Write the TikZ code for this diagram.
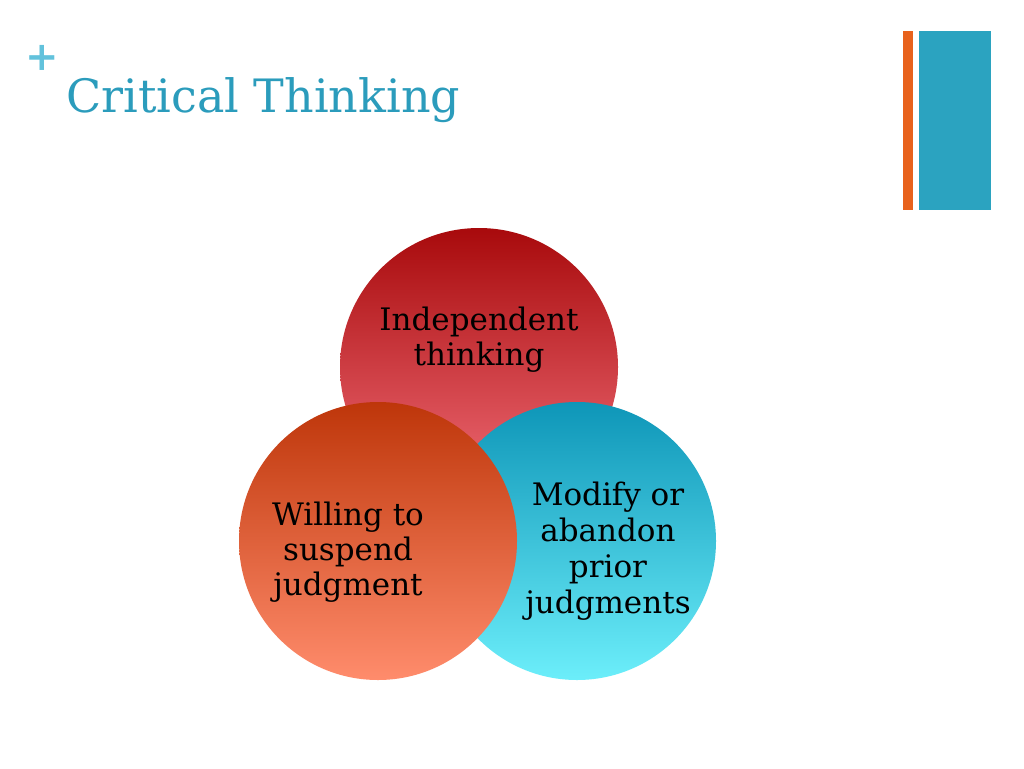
\documentclass[tikz,border=0pt]{standalone}
\usepackage{fontspec}
\setmainfont{DejaVu Serif}
\usepackage{xcolor}
\definecolor{titleblue}{HTML}{2B9CBC}
\definecolor{plusblue}{HTML}{62C2DC}
\definecolor{barorange}{HTML}{E8621C}
\definecolor{barblue}{HTML}{2BA3C0}
\definecolor{redtop}{HTML}{A80A0C}
\definecolor{redbottom}{HTML}{F2707A}
\definecolor{orangetop}{HTML}{BE360A}
\definecolor{orangebottom}{HTML}{FF8C6C}
\definecolor{bluetop}{HTML}{0E96B8}
\definecolor{bluebottom}{HTML}{6CEEFA}

\begin{document}
\begin{tikzpicture}[x=1pt, y=-1pt,
  bubble/.style={circle, minimum size=278pt, inner sep=0pt},
  bubbletext/.style={align=center, text=black, font=\fontsize{31}{35}\selectfont}
]
  \useasboundingbox[fill=white] (0,0) rectangle (1024,768);

  % title
  \node[text=plusblue, font=\fontsize{40}{40}\selectfont\bfseries] (plus) at (42,58) {+};
  \node[anchor=base west, text=titleblue, font=\fontsize{46}{46}\selectfont, inner sep=0pt] (title) at (66,112) {Critical Thinking};

  % corner bars
  \fill[barorange] (903,31) rectangle (913,210);
  \fill[barblue] (919,31) rectangle (991,210);

  % circles
  \node[bubble, top color=redtop, bottom color=redbottom] (indep) at (479,367) {};
  \node[bubble, top color=bluetop, bottom color=bluebottom] (modify) at (577,541) {};
  \node[bubble, top color=orangetop, bottom color=orangebottom] (willing) at (378,541) {};

  % labels
  \node[bubbletext] (indeplabel) at (479,340) {Independent\\thinking};
  \node[bubbletext] (willinglabel) at (348,552) {Willing to\\suspend\\judgment};
  \node[bubbletext, font=\fontsize{31}{36}\selectfont] (modifylabel) at (608,551) {Modify or\\abandon\\prior\\judgments};
\end{tikzpicture}
\end{document}
